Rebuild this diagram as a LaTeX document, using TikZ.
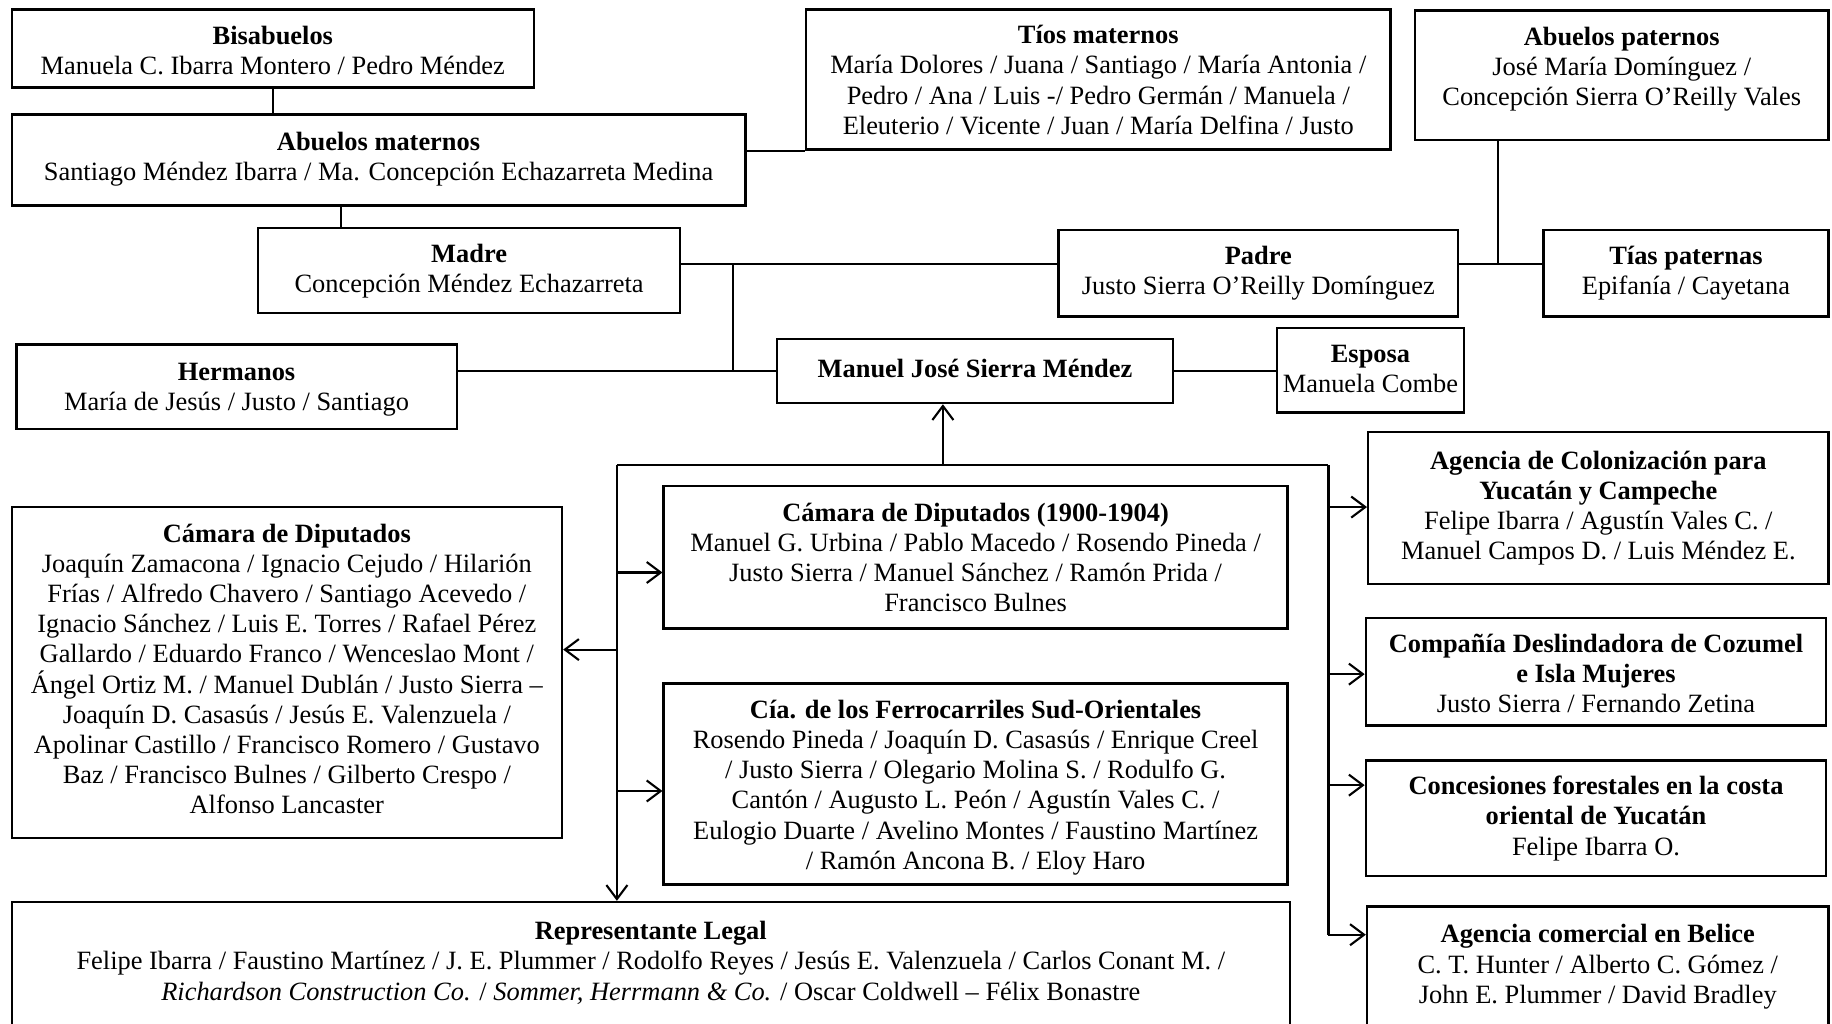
\documentclass[tikz,border=0pt]{standalone}
\usepackage{fontspec}
\setmainfont{Liberation Serif}
\usetikzlibrary{arrows.meta,fit,calc}
\begin{document}
\begin{tikzpicture}[x=0.5pt,y=-0.5pt,
  box/.style={draw, line width=1pt, inner sep=0pt},
  txt/.style={align=center, inner sep=0pt, font=\fontsize{11.3}{12.9}\selectfont},
  link/.style={line width=0.9pt},
  arr/.style={link, -{Straight Barb[length=6pt,width=9pt,line width=0.9pt]}}
]
\useasboundingbox (0,0) rectangle (1568,876);

% ---- family boxes ----
\node[box, fit={(10,8) (457,75)}] (bis) {};
\node[txt] (bis-t) at (233.5,43) {\textbf{Bisabuelos}\\Manuela C. Ibarra Montero / Pedro Méndez};

\node[box, fit={(10,98) (638,176)}] (abm) {};
\node[txt] (abm-t) at (324,136) {\textbf{Abuelos maternos}\\Santiago Méndez Ibarra / Ma. Concepción Echazarreta Medina};

\node[box, fit={(690,8) (1190,128)}] (tios) {};
\node[txt] (tios-t) at (940,68.5) {\textbf{Tíos maternos}\\María Dolores / Juana / Santiago / María Antonia /\\Pedro / Ana / Luis -/ Pedro Germán / Manuela /\\Eleuterio / Vicente / Juan / María Delfina / Justo};

\node[box, fit={(1211,9) (1565,120)}] (ap) {};
\node[txt] (ap-t) at (1388,59) {\textbf{Abuelos paternos}\\José María Domínguez /\\Concepción Sierra O’Reilly Vales};

\node[box, fit={(221,195) (582,268)}] (madre) {};
\node[txt] (madre-t) at (401.5,232) {\textbf{Madre}\\Concepción Méndez Echazarreta};

\node[box, fit={(906,197) (1248,271)}] (padre) {};
\node[txt] (padre-t) at (1077,234) {\textbf{Padre}\\Justo Sierra O’Reilly Domínguez};

\node[box, fit={(1321,197) (1565,271)}] (tias) {};
\node[txt] (tias-t) at (1443,234) {\textbf{Tías paternas}\\Epifanía / Cayetana};

\node[box, fit={(14,295) (391,367)}] (herm) {};
\node[txt] (herm-t) at (202.5,333.5) {\textbf{Hermanos}\\María de Jesús / Justo / Santiago};

\node[box, fit={(665,290) (1004,345)}] (manuel) {};
\node[txt] (manuel-t) at (834.5,315) {\textbf{Manuel José Sierra Méndez}};

\node[box, fit={(1093,281) (1253,353)}] (esposa) {};
\node[txt] (esposa-t) at (1173,316) {\textbf{Esposa}\\Manuela Combe};

% ---- activity boxes ----
\node[box, fit={(1171,370) (1565,500)}] (agcol) {};
\node[txt] (agcol-t) at (1368,435) {\textbf{Agencia de Colonización para}\\\textbf{Yucatán y Campeche}\\Felipe Ibarra / Agustín Vales C. /\\Manuel Campos D. / Luis Méndez E.};

\node[box, fit={(10,434) (481,717)}] (camL) {};
\node[txt] (camL-t) at (245.5,572.5) {\textbf{Cámara de Diputados}\\Joaquín Zamacona / Ignacio Cejudo / Hilarión\\Frías / Alfredo Chavero / Santiago Acevedo /\\Ignacio Sánchez / Luis E. Torres / Rafael Pérez\\Gallardo / Eduardo Franco / Wenceslao Mont /\\Ángel Ortiz M. / Manuel Dublán / Justo Sierra –\\Joaquín D. Casasús / Jesús E. Valenzuela /\\Apolinar Castillo / Francisco Romero / Gustavo\\Baz / Francisco Bulnes / Gilberto Crespo /\\Alfonso Lancaster};

\node[box, fit={(568,416) (1102,538)}] (c1900) {};
\node[txt] (c1900-t) at (835,477) {\textbf{Cámara de Diputados (1900-1904)}\\Manuel G. Urbina / Pablo Macedo / Rosendo Pineda /\\Justo Sierra / Manuel Sánchez / Ramón Prida /\\Francisco Bulnes};

\node[box, fit={(568,585) (1102,757)}] (cia) {};
\node[txt] (cia-t) at (835,674) {\textbf{Cía. de los Ferrocarriles Sud-Orientales}\\Rosendo Pineda / Joaquín D. Casasús / Enrique Creel\\/ Justo Sierra / Olegario Molina S. / Rodulfo G.\\Cantón / Augusto L. Peón / Agustín Vales C. /\\Eulogio Duarte / Avelino Montes / Faustino Martínez\\/ Ramón Ancona B. / Eloy Haro};

\node[box, fit={(1169,529) (1563,621)}] (desl) {};
\node[txt] (desl-t) at (1366,576.5) {\textbf{Compañía Deslindadora de Cozumel}\\\textbf{e Isla Mujeres}\\Justo Sierra / Fernando Zetina};

\node[box, fit={(1169,651) (1563,750)}] (conc) {};
\node[txt] (conc-t) at (1366,700.5) {\textbf{Concesiones forestales en la costa}\\\textbf{oriental de Yucatán}\\Felipe Ibarra O.};

\node[box, fit={(1170,776) (1565,884)}] (bel) {};
\node[txt] (bel-t) at (1367.5,827.5) {\textbf{Agencia comercial en Belice}\\C. T. Hunter / Alberto C. Gómez /\\John E. Plummer / David Bradley};

\node[box, fit={(10,772) (1104,884)}] (rep) {};
\node[txt] (rep-t) at (557,824) {\textbf{Representante Legal}\\Felipe Ibarra / Faustino Martínez / J. E. Plummer / Rodolfo Reyes / Jesús E. Valenzuela / Carlos Conant M. /\\\textit{Richardson Construction Co.} / \textit{Sommer, Herrmann \& Co.} / Oscar Coldwell – Félix Bonastre};

% ---- family links ----
\draw[link] (bis.south) -- (bis.south |- abm.north);
\draw[link] (292,0 |- abm.south) -- (292,0 |- madre.north);
\draw[link] (abm.east |- tios.south west) -- (tios.south west);
\coordinate (jP) at (627,226);
\draw[link] (madre.east |- jP) -- (padre.west |- jP);
\draw[link] (jP) -- (jP |- manuel.west);
\draw[link] (herm.east |- manuel.west) -- (manuel.west);
\coordinate (jT) at (1282,226);
\draw[link] (padre.east |- jT) -- (tias.west |- jT);
\draw[link] (jT |- ap.south) -- (jT);
\draw[link] (manuel.east) -- (manuel.east -| esposa.west);

% ---- activity links ----
\coordinate (bL) at (528,398);
\coordinate (bR) at (1137,398);
\coordinate (bU) at (807,398);
\draw[link] (bL) -- (bR);
\draw[arr] (bU) -- (bU |- manuel.south);
\draw[arr] (bL) -- (bL |- rep.north);
\draw[arr] (bL |- 0,490) -- (c1900.west |- 0,490);
\draw[arr] (bL |- 0,677) -- (cia.west |- 0,677);
\draw[arr] (bL |- 0,556) -- (camL.east |- 0,556);
\draw[link] (bR) -- (bR |- 0,800);
\draw[arr] (bR |- 0,434) -- (agcol.west |- 0,434);
\draw[arr] (bR |- 0,577) -- (desl.west |- 0,577);
\draw[arr] (bR |- 0,672) -- (conc.west |- 0,672);
\draw[arr] (bR |- 0,800) -- (bel.west |- 0,800);
\end{tikzpicture}
\end{document}
